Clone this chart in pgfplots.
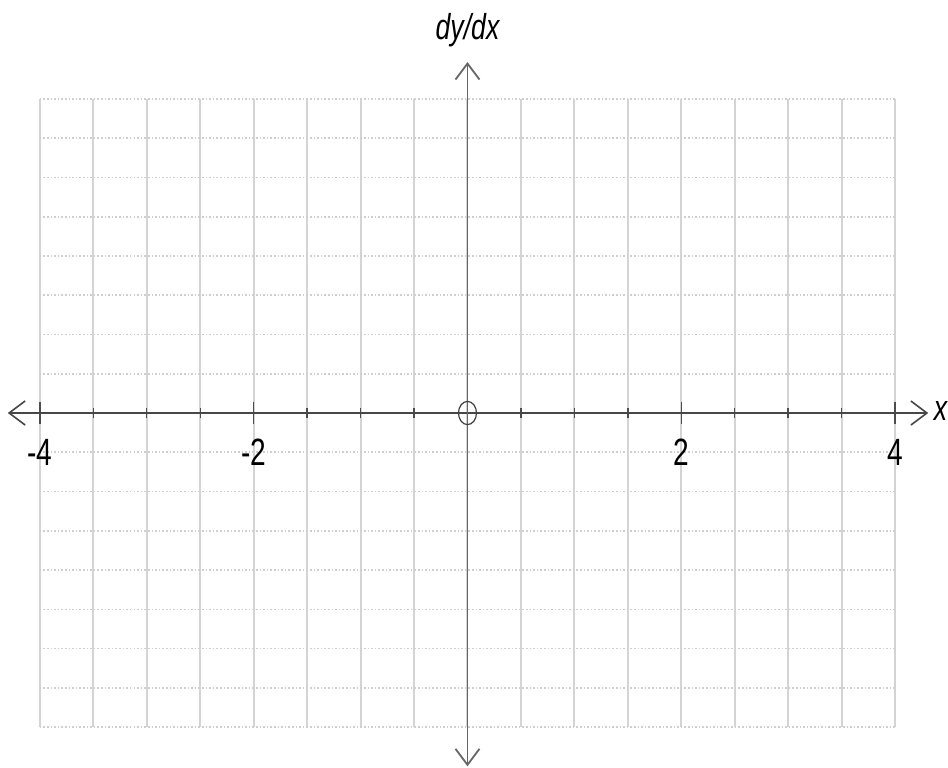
\documentclass[border=0pt]{standalone}
\usepackage{pgfplots}
\pgfplotsset{compat=1.18}
\usepackage{fontspec}
\usetikzlibrary{arrows.meta}
\newfontfamily\arial{Liberation Sans}
\newcommand\lbl[1]{\scalebox{0.74}[1]{\arial\fontsize{19}{19}\selectfont #1}}
\newcommand\ilbl[1]{\scalebox{0.74}[1]{\arial\itshape\fontsize{18}{18}\selectfont #1}}
\definecolor{gridv}{HTML}{D4D4D4}
\definecolor{gridh}{HTML}{CFCFCF}
\begin{document}
\begin{tikzpicture}
\begin{axis}[
    scale only axis,
    width=427.5pt, height=314pt,
    xmin=-4, xmax=4, ymin=-8, ymax=8,
    axis lines=middle,
    axis line style={draw=none},
    clip=false,
    xtick={-4,-2,2,4},
    xticklabels={\lbl{-4},\lbl{-2},\lbl{2},\lbl{4}},
    minor xtick={-3.5,-3,-2.5,-1.5,-1,-0.5,0,0.5,1,1.5,2.5,3,3.5},
    ytick={-8,-7,...,8},
    yticklabels={},
    ytick style={draw=none},
    tick align=center,
    major tick length=11pt,
    minor tick length=5pt,
    xtick style={black!70, line width=0.7pt},
    xticklabel style={anchor=north, yshift=-4pt},
    grid=both,
    major x grid style={gridv, line width=1pt},
    minor x grid style={gridv, line width=1pt},
    major y grid style={gridh, line width=0.8pt, densely dotted},
]
\draw[black!72, line width=0.8pt,
      {Straight Barb[length=8pt,width=12pt]}-{Straight Barb[length=8pt,width=12pt]}]
    (axis cs:-4.30,0) -- (axis cs:4.31,0);
\draw[black!60, line width=0.9pt,
      {Straight Barb[length=8pt,width=12pt]}-{Straight Barb[length=8pt,width=12pt]}]
    (axis cs:0,-9.0) -- (axis cs:0,8.94);
\draw[black!75, line width=0.6pt] (axis cs:0,0) ellipse [x radius=4.5pt, y radius=5.8pt];
\node at (axis cs:0,9.76) {\ilbl{dy/dx}};
\node[anchor=west, inner sep=0pt] at (axis cs:4.36,0.05) {\ilbl{x}};
\coordinate (bl) at (axis cs:-4.373,-9.02);
\coordinate (tr) at (axis cs:4.495,10.52);
\end{axis}
\pgfresetboundingbox
\path (bl) rectangle (tr);
\end{tikzpicture}
\end{document}
